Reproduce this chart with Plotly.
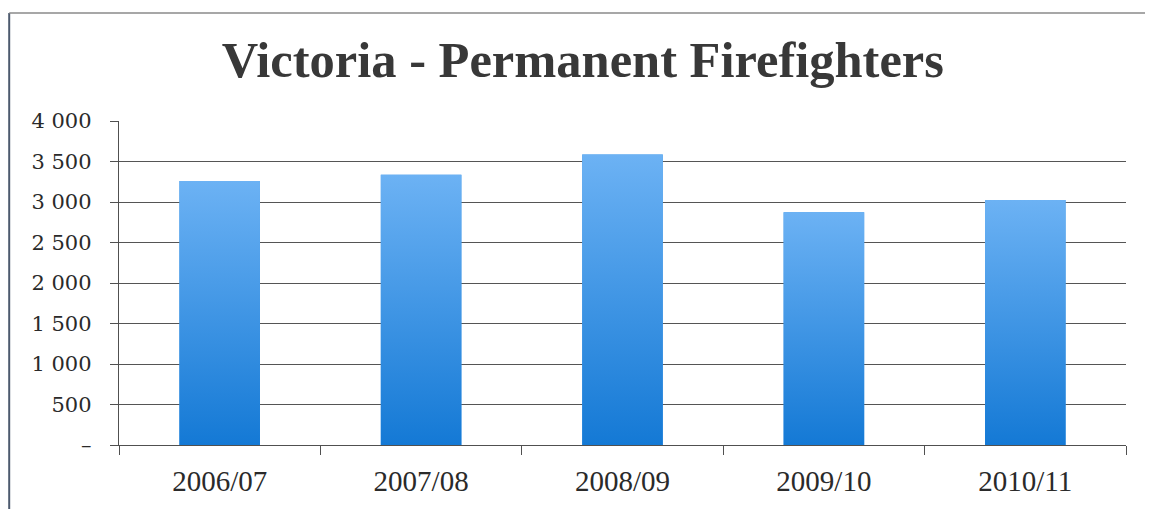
import plotly.graph_objects as go

# ---- data ----
categories = ["2006/07", "2007/08", "2008/09", "2009/10", "2010/11"]
firefighters = [3260, 3335, 3585, 2875, 3025]
y_tick_values = [0, 500, 1000, 1500, 2000, 2500, 3000, 3500, 4000]
y_tick_labels = ["–", "500", "1 000", "1 500", "2 000", "2 500", "3 000", "3 500", "4 000"]
title_text = "Victoria - Permanent Firefighters"

# ---- style ----
BAR_TOP = "#6cb2f4"
BAR_BOTTOM = "#1479d5"
GRID = "#555555"
AXIS = "#505050"
BAR_WIDTH = 0.4

OFF = 8  # default page body margin
W, H = 1153 - OFF, 509 - OFF
L, R, T, B = 119 - OFF, 27, 121 - OFF, 58

fig = go.Figure()

# base bars (category axis)
fig.add_trace(go.Bar(
    x=categories, y=firefighters, width=BAR_WIDTH,
    marker=dict(color="#3c95e6", line=dict(width=0)),
    showlegend=False, hoverinfo="x+y",
))

# gradient overlay drawn on a hidden numeric axis aligned with the categories
for i, v in enumerate(firefighters):
    half = BAR_WIDTH / 2
    fig.add_trace(go.Scatter(
        x=[i - half, i + half, i + half, i - half, i - half],
        y=[0, 0, v, v, 0],
        xaxis="x2", mode="lines", fill="toself",
        line=dict(width=0),
        fillgradient=dict(type="vertical",
                          colorscale=[[0, BAR_BOTTOM], [1, BAR_TOP]]),
        showlegend=False, hoverinfo="skip",
    ))

pw = W - L - R
ph = H - T - B

def px_x(p):  # page pixel -> paper
    return (p - OFF - L) / pw

def px_y(p):
    return (H - B - (p - OFF)) / ph

fig.update_layout(
    width=W, height=H, autosize=False,
    margin=dict(l=L, r=R, t=T, b=B, pad=0),
    paper_bgcolor="white", plot_bgcolor="white",
    title=dict(text=title_text, x=0.502, xanchor="center",
               y=1 - 34 / H, yanchor="top", yref="container",
               font=dict(family="Liberation Serif", size=50.5, color="#383838", weight="bold")),
    xaxis=dict(type="category", tickson="boundaries", ticks="outside", ticklen=9,
               tickcolor=AXIS, tickwidth=1.4, showline=True, linecolor=AXIS, linewidth=1.4,
               showgrid=False, ticklabelstandoff=10,
               tickfont=dict(family="Liberation Serif", size=29, color="#2a2a2a")),
    xaxis2=dict(overlaying="x", range=[-0.5, len(categories) - 0.5], visible=False),
    yaxis=dict(range=[0, 4000], tickvals=y_tick_values, ticktext=y_tick_labels,
               ticks="outside", ticklen=8, tickcolor=AXIS, tickwidth=1.4,
               showline=True, linecolor=AXIS, linewidth=1.4,
               showgrid=True, gridcolor=GRID, gridwidth=1.4, zeroline=False,
               ticklabelstandoff=14,
               tickfont=dict(family="DejaVu Serif", size=21, color="#2a2a2a")),
    shapes=[
        dict(type="line", xref="paper", yref="paper",
             x0=px_x(9.2), x1=px_x(9.2), y0=px_y(11), y1=px_y(520),
             line=dict(color="#4d5a6e", width=2)),
        dict(type="line", xref="paper", yref="paper",
             x0=px_x(9.2), x1=px_x(1160), y0=px_y(11), y1=px_y(11),
             line=dict(color="#8a8a8a", width=1.5)),
    ],
)

fig.write_html("out.html")
